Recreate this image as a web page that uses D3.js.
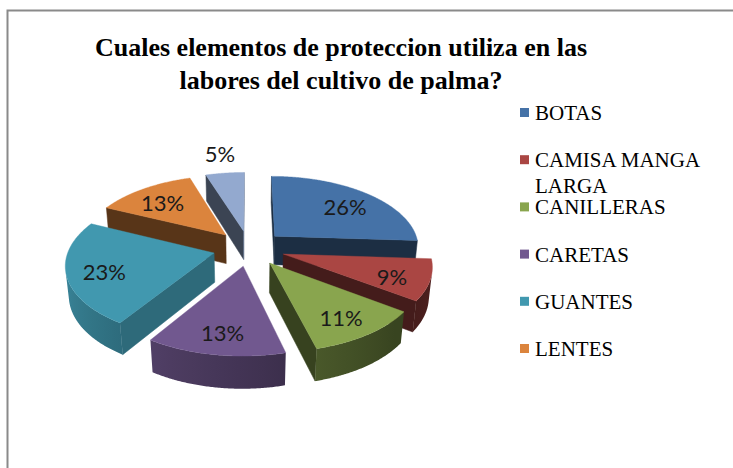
<!DOCTYPE html>
<html>
<head>
<meta charset="utf-8">
<script src="https://cdn.jsdelivr.net/npm/d3@7"></script>
<style>
  html, body { margin: 0; padding: 0; background: #ffffff; }
  svg { display: block; }
</style>
</head>
<body>
<svg id="chart" width="733" height="468"></svg>
<script>
// ---------------- DATA ----------------
const titleLines = ["Cuales elementos de proteccion utiliza en las", "labores del cultivo de palma?"];
const categories = ["BOTAS", "CAMISA MANGA LARGA", "CANILLERAS", "CARETAS", "GUANTES", "LENTES", "OTROS"];
const values = [26, 9, 11, 13, 23, 13, 5];
const valueLabels = ["26%", "9%", "11%", "13%", "23%", "13%", "5%"];
const colors = ["#4572a7", "#aa4643", "#89a54e", "#71588f", "#4198af", "#db843d", "#93a9cf"];
const legendLines = [["BOTAS"], ["CAMISA MANGA", "LARGA"], ["CANILLERAS"], ["CARETAS"], ["GUANTES"], ["LENTES"]];

// ---------------- LAYOUT ----------------
const W = 733, H = 468;
const cx = 249, cy = 248;     // projected pie centre
const R = 145;                // radius
const depth = 34;             // pie thickness
const explode = 36;           // explosion distance
const phi = 29.5 * Math.PI / 180; // tilt
const F = 888;                // perspective distance
const serif = "'Liberation Serif', 'Times New Roman', Times, serif";

const svg = d3.select("#chart");
svg.append("rect").attr("width", W).attr("height", H).attr("fill", "#ffffff");
const defs = svg.append("defs");

// chart border (top and left visible)
svg.append("path")
  .attr("d", `M7.5,${H} L7.5,10.5 L${W},10.5`)
  .attr("fill", "none").attr("stroke", "#8a8a8a").attr("stroke-width", 2);

// title
const title = svg.append("text")
  .attr("font-family", serif)
  .attr("font-weight", "bold").attr("font-size", 26)
  .attr("text-anchor", "middle").attr("fill", "#000");
title.selectAll("tspan").data(titleLines).join("tspan")
  .attr("x", 341).attr("y", (d, i) => 56 + i * 33).text(d => d);

// projection
function proj(x, y, z) {
  const v = y * Math.sin(phi) + z * Math.cos(phi);
  const w = y * Math.cos(phi) - z * Math.sin(phi);
  const s = F / (F + w);
  return [cx + x * s, cy - v * s];
}
function area(pts) {
  let a = 0;
  for (let i = 0; i < pts.length; i++) {
    const p = pts[i], q = pts[(i + 1) % pts.length];
    a += p[0] * q[1] - q[0] * p[1];
  }
  return a;
}
function shade(col, f) {
  const c = d3.rgb(col);
  return d3.rgb(c.r * f, c.g * f, c.b * f).toString();
}
const clamp = (v, a, b) => Math.max(a, Math.min(b, v));
function norm360(a) { return ((a % 360) + 360) % 360; }
function wallFactor(a) {
  a = norm360(a);
  if (a < 130) return 0.4 + clamp((130 - a) / 40, 0, 1) * 0.1;
  return 0.4 + 0.53 * clamp((a - 130) / 140, 0, 1);
}
function cutFactor(a) {
  a = norm360(a);
  return 0.4 + 0.3 * clamp((180 - a) / 50, 0, 1);
}

const pie = d3.pie().sort(null).value(d => d).startAngle(0).endAngle(2 * Math.PI);
const arcs = pie(values).map((d, i) => {
  const m = (d.startAngle + d.endAngle) / 2;
  return { ...d, i, m, ox: explode * Math.sin(m), oy: explode * Math.cos(m) };
});

const line = d3.line();
const gPie = svg.append("g");
const order = arcs.slice().sort((a, b) => Math.cos(b.m) - Math.cos(a.m));

order.forEach(s => {
  const col = colors[s.i];
  const g = gPie.append("g");
  const rim = (t, z) => proj(s.ox + R * Math.sin(t), s.oy + R * Math.cos(t), z);
  const C0 = proj(s.ox, s.oy, 0), Cb = proj(s.ox, s.oy, -depth);
  const a0 = s.startAngle, a1 = s.endAngle;

  // cut faces
  const startFace = [C0, rim(a0, 0), rim(a0, -depth), Cb];
  const endFace = [rim(a1, 0), C0, Cb, rim(a1, -depth)];
  [[startFace, a0 * 180 / Math.PI - 90], [endFace, a1 * 180 / Math.PI + 90]].forEach(([pts, na]) => {
    if (area(pts) < 0) {
      const c = shade(col, cutFactor(na));
      g.append("path").attr("d", line(pts) + "Z").attr("fill", c)
        .attr("stroke", c).attr("stroke-width", 0.5).attr("stroke-linejoin", "round");
    }
  });

  // outer wall: one path over the visible angle range, with gradient
  const steps = Math.max(4, Math.ceil((a1 - a0) / (Math.PI / 360)));
  const vis = [];
  for (let k = 0; k < steps; k++) {
    const t0 = a0 + (a1 - a0) * k / steps, t1 = a0 + (a1 - a0) * (k + 1) / steps;
    const q = [rim(t0, 0), rim(t1, 0), rim(t1, -depth), rim(t0, -depth)];
    if (area(q) < 0) vis.push([t0, t1]);
  }
  if (vis.length) {
    const ts = [vis[0][0]].concat(vis.map(v => v[1]));
    const topPts = ts.map(t => rim(t, 0));
    const botPts = ts.map(t => rim(t, -depth)).reverse();
    const xs = topPts.map(p => p[0]);
    const xmin = d3.min(xs), xmax = d3.max(xs);
    const gid = "wall" + s.i;
    const grad = defs.append("linearGradient").attr("id", gid)
      .attr("gradientUnits", "userSpaceOnUse")
      .attr("x1", xmin).attr("x2", xmax).attr("y1", 0).attr("y2", 0);
    const nS = 6;
    const stops = d3.range(nS + 1).map(k => {
      const idx = Math.round(k * (ts.length - 1) / nS);
      return { off: (xs[idx] - xmin) / Math.max(1e-6, xmax - xmin), c: shade(col, wallFactor(ts[idx] * 180 / Math.PI)) };
    }).sort((a, b) => a.off - b.off);
    grad.selectAll("stop").data(stops).join("stop")
      .attr("offset", d => d.off).attr("stop-color", d => d.c);
    g.append("path").attr("d", line(topPts.concat(botPts)) + "Z")
      .attr("fill", `url(#${gid})`);
  }

  // top face
  const top = [C0];
  for (let k = 0; k <= steps; k++) top.push(rim(a0 + (a1 - a0) * k / steps, 0));
  g.append("path").attr("d", line(top) + "Z").attr("fill", col)
    .attr("stroke", col).attr("stroke-width", 0.4);
});

// value labels (placed on the top face of each exploded slice)
svg.append("g").selectAll("text").data(arcs).join("text")
  .attr("font-family", "Lato, 'Open Sans', sans-serif")
  .attr("font-size", 22).attr("fill", "#1a1a1a")
  .attr("text-anchor", "middle").attr("dominant-baseline", "central")
  .attr("transform", d => {
    const small = d.value < 6;
    const r = small ? explode + 1.32 * R : explode + 0.75 * R;
    const p = proj(r * Math.sin(d.m), r * Math.cos(d.m), 0);
    return `translate(${p[0]},${p[1] + (small ? -4 : 3)})`;
  })
  .text((d, i) => valueLabels[i]);

// legend
const leg = svg.append("g");
legendLines.forEach((lines, i) => {
  const yc = 113 + i * 47.2;
  leg.append("rect").attr("x", 520).attr("y", yc - 5).attr("width", 9).attr("height", 9)
    .attr("fill", colors[i]);
  const t = leg.append("text")
    .attr("font-family", serif)
    .attr("font-size", 21).attr("fill", "#000");
  lines.forEach((ln, j) => {
    t.append("tspan").attr("x", 535).attr("y", yc + 7 + j * 26).text(ln);
  });
});
</script>
</body>
</html>
